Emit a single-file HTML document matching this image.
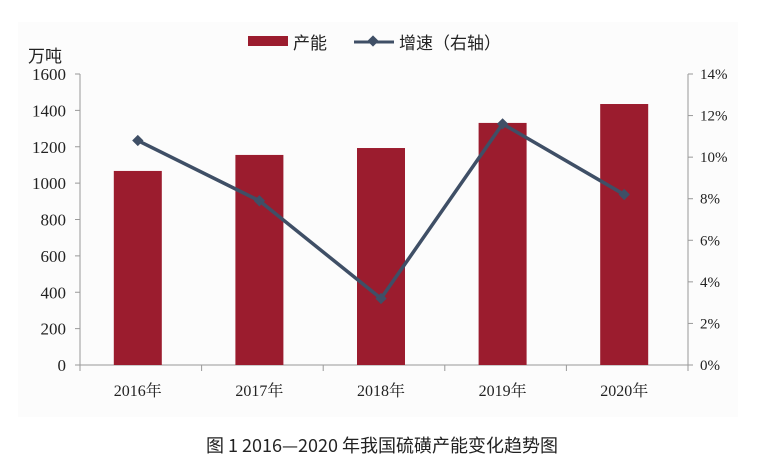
<!DOCTYPE html>
<html><head><meta charset="utf-8"><style>
body{margin:0;background:#fff;}
svg text{font-family:"Liberation Serif","Noto Serif CJK SC",serif;fill:#222;}
</style></head><body>
<svg id="chart" width="765" height="471">
<rect x="0" y="0" width="765" height="471" fill="#fff"/>
<rect x="18" y="22" width="720" height="395" fill="#fcfcfc"/>
<g id="axes"></g>
<g id="bars"></g>
<g id="line"></g>
<g>
<rect x="248" y="36" width="40" height="10" fill="#9b1c2e"/>
<text x="293" y="49" font-size="17" style="font-family:'Noto Sans CJK SC',sans-serif">产能</text>
<line x1="354" y1="42" x2="394" y2="42" stroke="#3f4f66" stroke-width="3"/>
<rect x="369" y="37" width="8" height="8" fill="#3f4f66" transform="rotate(45 373 41)"/>
<text x="399" y="49" font-size="17" style="font-family:'Noto Sans CJK SC',sans-serif">增速（右轴）</text>
</g>
<text x="28" y="62" font-size="17" style="font-family:'Noto Sans CJK SC',sans-serif">万吨</text>
<text x="382" y="452" font-size="18" text-anchor="middle" style="font-family:'Noto Sans CJK SC',sans-serif">图 1  2016—2020 年我国硫磺产能变化趋势图</text>
</svg>
<script>
const categories=["2016年","2017年","2018年","2019年","2020年"];
const capacity=[1067,1155,1193,1331,1435];
const growth=[10.8,7.9,3.2,11.6,8.2];
const leftTicks=[0,200,400,600,800,1000,1200,1400,1600];
const rightTicks=[0,2,4,6,8,10,12,14];
const NS="http://www.w3.org/2000/svg";
const X0=80,X1=688,Y0=365,Y1=74;
const yL=v=>Y0-(v/1600)*(Y0-Y1);
const yR=v=>Y0-(v/14)*(Y0-Y1);
const band=(X1-X0)/categories.length;
const xC=i=>X0+band*(i+0.5)-3;
function mk(tag,attrs,parent){const e=document.createElementNS(NS,tag);for(const k in attrs)e.setAttribute(k,attrs[k]);parent.appendChild(e);return e;}
const axes=document.getElementById('axes'),bars=document.getElementById('bars'),line=document.getElementById('line');
let a=mk('line',{x1:X0,y1:Y1,x2:X0,y2:Y0,stroke:'#999'},axes);


a=mk('line',{x1:X1,y1:Y1,x2:X1,y2:Y0,stroke:'#999'},axes);


a=mk('line',{x1:X0,y1:Y0,x2:X1,y2:Y0,stroke:'#999'},axes);


leftTicks.forEach(v=>{const y=yL(v);
 mk('line',{x1:X0-5,y1:y,x2:X0,y2:y,stroke:'#999'},axes);
 const t=mk('text',{x:X0-14,y:y+6,'font-size':17,'text-anchor':'end'},axes);t.textContent=v;
 
 });
rightTicks.forEach(v=>{const y=yR(v);
 mk('line',{x1:X1,y1:y,x2:X1+5,y2:y,stroke:'#999'},axes);
 const t=mk('text',{x:X1+12,y:y+5,'font-size':15},axes);t.textContent=v+'%';
 
 });
for(let i=0;i<=categories.length;i++){mk('line',{x1:X0+band*i,y1:Y0,x2:X0+band*i,y2:Y0+6,stroke:'#999'},axes);}
categories.forEach((c,i)=>{
 const t=mk('text',{x:xC(i),y:Y0+31,'font-size':16,'text-anchor':'middle'},axes);t.textContent=c;
 
 
 const r=mk('rect',{x:xC(i)-24,y:yL(capacity[i]),width:48,height:Y0-yL(capacity[i]),fill:'#9b1c2e'},bars);
 
 
});
const pl=mk('polyline',{points:growth.map((g,i)=>xC(i)+','+yR(g)).join(' '),fill:'none',stroke:'#3f4f66','stroke-width':3.5},line);


growth.forEach((g,i)=>{const x=xC(i),y=yR(g);
 const m=mk('rect',{x:x-4,y:y-4,width:8,height:8,fill:'#3f4f66',transform:`rotate(45 ${x} ${y})`},line);
 
 });
</script>
</body></html>
